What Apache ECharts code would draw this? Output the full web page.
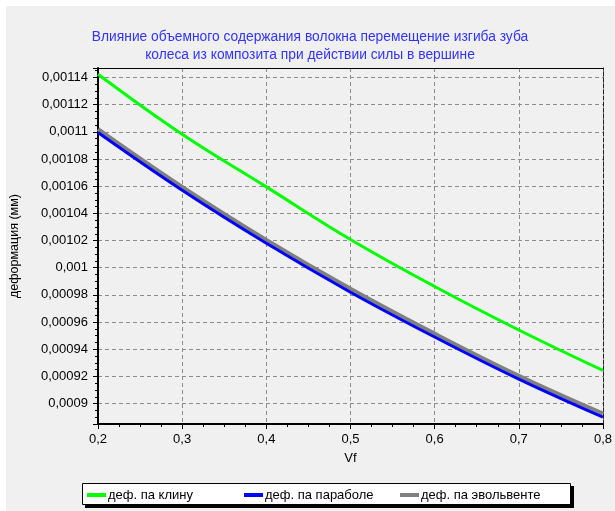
<!DOCTYPE html>
<html>
<head>
<meta charset="utf-8">
<script src="https://cdn.jsdelivr.net/npm/echarts@6/dist/echarts.min.js"></script>
<style>html,body{margin:0;padding:0;background:#fff}#c{width:615px;height:511px}</style>
</head>
<body>
<div id="c"></div>
<script>
var titleText = 'Влияние объемного содержания волокна перемещение изгиба зуба\nколеса из композита при действии силы в вершине';
var xName = 'Vf';
var yName = 'деформация (мм)';
var vf = [0.2, 0.3, 0.4, 0.5, 0.6, 0.7, 0.8];
var seriesNames = ['деф. па клину', 'деф. па параболе', 'деф. па эвольвенте'];
var klin = [0.0011424, 0.0010982, 0.0010595, 0.0010208, 0.0009862, 0.0009542, 0.0009244];
var parabola = [0.0010995, 0.0010570, 0.0010180, 0.0009820, 0.0009490, 0.0009180, 0.0008900];
var evolventa = [0.0011020, 0.0010595, 0.0010205, 0.0009845, 0.0009515, 0.0009205, 0.0008927];

function toPairs(arr) { return vf.map(function (x, i) { return [x, arr[i]]; }); }
function fmt(v) { return String(parseFloat(v.toPrecision(6))).replace('.', ','); }

var chart = echarts.init(document.getElementById('c'), null, { renderer: 'canvas' });
var font = 'Liberation Sans, Arial, sans-serif';
var yMin = 0.000885, yMax = 0.001147;
var legendColors = ['#00ff00', '#0000ff', '#808080'];
var legendLefts = [87, 244, 400];

function makeLegend(i) {
  return {
    left: legendLefts[i], top: 488, padding: 0,
    itemWidth: 19, itemHeight: 4, icon: 'rect',
    textStyle: { color: '#000', fontSize: 13, fontFamily: font, lineHeight: 14, padding: [0, 0, 0, -3] },
    data: [seriesNames[i]], z: 6
  };
}

chart.setOption({
  backgroundColor: '#ffffff',
  animation: false,
  graphic: [
    { type: 'rect', shape: { x: 6, y: 6, width: 609, height: 505 }, style: { fill: '#f0f0f0' }, z: -10 },
    { type: 'rect', shape: { x: 85, y: 486, width: 489, height: 22 }, style: { fill: '#000' }, z: 1 },
    { type: 'rect', shape: { x: 82.5, y: 483.5, width: 488, height: 21 }, style: { fill: '#fff', stroke: '#000', lineWidth: 1 }, z: 2 }
  ],
  title: {
    text: titleText,
    left: 305, top: 23, textAlign: 'center',
    textStyle: { color: '#3333ff', fontSize: 13.8, fontWeight: 'normal', fontFamily: font, lineHeight: 18 }
  },
  legend: [makeLegend(0), makeLegend(1), makeLegend(2)],
  grid: { left: 96, right: 11, top: 68, bottom: 87, containLabel: false },
  xAxis: [{
    type: 'value', min: 0.2, max: 0.8, interval: 0.1,
    name: xName, nameLocation: 'middle', nameGap: 28,
    nameTextStyle: { color: '#000', fontSize: 13, fontFamily: font },
    axisLine: { show: true, lineStyle: { color: '#000', width: 2 } },
    axisTick: { show: true, inside: false, length: 5, lineStyle: { color: '#000' } },
    minorTick: { show: true, splitNumber: 4, length: 3, lineStyle: { color: '#000' } },
    axisLabel: { color: '#000', fontSize: 13, fontFamily: font, margin: 9, formatter: function (v) { return fmt(v); } },
    splitLine: { show: true, lineStyle: { color: '#8c8c8c', type: [4, 3], width: 1 } }
  }, {
    type: 'value', min: 0.2, max: 0.8, position: 'top',
    axisLine: { show: true, lineStyle: { color: '#000', width: 1 } },
    axisTick: { show: false }, axisLabel: { show: false }, splitLine: { show: false }
  }],
  yAxis: [{
    type: 'value', min: yMin, max: yMax,
    minInterval: 0.00002, maxInterval: 0.00002, splitNumber: 12,
    name: yName, nameLocation: 'middle', nameGap: 77, nameRotate: 90,
    nameTextStyle: { color: '#000', fontSize: 12.5, fontFamily: font },
    axisLine: { show: true, lineStyle: { color: '#000', width: 2 } },
    axisTick: { show: true, inside: false, length: 5, lineStyle: { color: '#000' } },
    minorTick: { show: true, splitNumber: 4, length: 3, lineStyle: { color: '#000' } },
    axisLabel: { color: '#000', fontSize: 13, fontFamily: font, margin: 10, showMinLabel: false, showMaxLabel: false,
      formatter: function (v) { return fmt(v); } },
    splitLine: { show: true, lineStyle: { color: '#8c8c8c', type: [4, 3], width: 1 } }
  }, {
    type: 'value', min: yMin, max: yMax, position: 'right',
    axisLine: { show: true, lineStyle: { color: '#222', width: 1, type: [4, 2] } },
    axisTick: { show: false }, axisLabel: { show: false }, splitLine: { show: false }
  }],
  series: [
    { name: seriesNames[0], type: 'line', data: toPairs(klin), showSymbol: false, smooth: 0.4,
      lineStyle: { color: legendColors[0], width: 3 }, itemStyle: { color: legendColors[0] }, z: 3 },
    { name: seriesNames[1], type: 'line', data: toPairs(parabola), showSymbol: false, smooth: 0.4,
      lineStyle: { color: legendColors[1], width: 3 }, itemStyle: { color: legendColors[1] }, z: 4 },
    { name: seriesNames[2], type: 'line', data: toPairs(evolventa), showSymbol: false, smooth: 0.4,
      lineStyle: { color: legendColors[2], width: 4 }, itemStyle: { color: legendColors[2] }, z: 2 }
  ]
});
</script>
</body>
</html>
